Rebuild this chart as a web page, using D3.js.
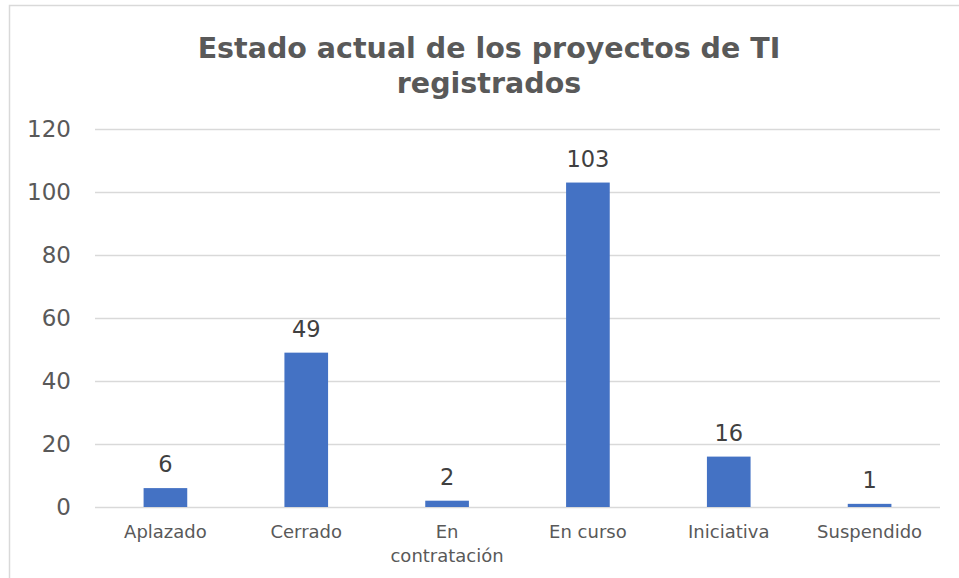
<!DOCTYPE html>
<html>
<head>
<meta charset="utf-8">
<script src="https://cdn.jsdelivr.net/npm/d3@7"></script>
<style>
  body { margin: 0; background: #fff; }
  svg { display: block; }
</style>
</head>
<body>
<div id="chart"></div>
<script>
const categories = ["Aplazado", "Cerrado", "En contratación", "En curso", "Iniciativa", "Suspendido"];
const values = [6, 49, 2, 103, 16, 1];
const yTicks = [0, 20, 40, 60, 80, 100, 120];
const titleLines = ["Estado actual de los proyectos de TI", "registrados"];

const size = { width: 959, height: 578 };
const plot = { left: 95, right: 940, top: 129, bottom: 507 };
const fontFamily = "Verdana, 'DejaVu Sans', sans-serif";

const svg = d3.select("#chart")
    .append("svg")
    .attr("width", size.width)
    .attr("height", size.height);

// chart frame
svg.append("rect")
    .attr("x", 9.5)
    .attr("y", 5.5)
    .attr("width", size.width + 20)
    .attr("height", size.height + 20)
    .attr("fill", "#fff")
    .attr("stroke", "#d9d9d9")
    .attr("stroke-width", 1.5);

svg.append("g")
    .selectAll("text")
    .data(titleLines)
    .join("text")
    .attr("x", 489)
    .attr("y", (d, i) => 58 + i * 35)
    .attr("text-anchor", "middle")
    .attr("font-family", fontFamily)
    .attr("font-size", 28.5)
    .attr("font-weight", "bold")
    .attr("fill", "#595959")
    .text(d => d);

const xScale = d3.scaleBand()
    .domain(categories)
    .range([plot.left, plot.right])
    .paddingInner(0.69)
    .paddingOuter(0.345);

const yScale = d3.scaleLinear()
    .domain([0, 120])
    .range([plot.bottom, plot.top]);

// gridlines + y tick labels
const yAxis = d3.axisLeft(yScale)
    .tickValues(yTicks)
    .tickSize(-(plot.right - plot.left))
    .tickPadding(24);

const yG = svg.append("g")
    .attr("transform", "translate(" + plot.left + ",0)")
    .call(yAxis);
yG.select(".domain").remove();
yG.selectAll(".tick line")
    .attr("stroke", "#d9d9d9")
    .attr("stroke-width", 1.5);
yG.selectAll(".tick text")
    .attr("font-family", fontFamily)
    .attr("font-size", 23)
    .attr("fill", "#595959");

// bars
svg.append("g")
    .selectAll("rect")
    .data(values)
    .join("rect")
    .attr("x", (d, i) => xScale(categories[i]))
    .attr("y", d => yScale(d))
    .attr("width", xScale.bandwidth())
    .attr("height", d => yScale(0) - yScale(d))
    .attr("fill", "#4472c4");

// value labels
svg.append("g")
    .selectAll("text")
    .data(values)
    .join("text")
    .attr("x", (d, i) => xScale(categories[i]) + xScale.bandwidth() / 2)
    .attr("y", d => yScale(d) - 16)
    .attr("text-anchor", "middle")
    .attr("font-family", fontFamily)
    .attr("font-size", 22.5)
    .attr("fill", "#404040")
    .text(d => d);

// category labels (x axis)
const xAxis = d3.axisBottom(xScale).tickSize(0).tickPadding(0);
const xG = svg.append("g")
    .attr("transform", "translate(0," + plot.bottom + ")")
    .call(xAxis);
xG.select(".domain").remove();
xG.selectAll(".tick text")
    .attr("font-family", fontFamily)
    .attr("font-size", 18)
    .attr("fill", "#595959")
    .attr("dy", null)
    .attr("y", 31)
    .each(function (d) {
        const t = d3.select(this);
        if (d === "En contratación") {
            t.text(null);
            d.split(" ").forEach((w, i) => {
                t.append("tspan")
                    .attr("x", 0)
                    .attr("y", 31 + i * 24)
                    .text(w);
            });
        }
    });
</script>
</body>
</html>
